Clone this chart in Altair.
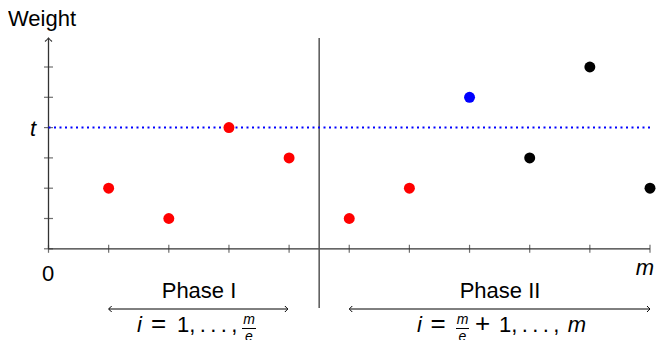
import altair as alt
import pandas as pd

# ---------------- data ----------------
item_index = [1, 2, 3, 4, 5, 6, 7, 8, 9, 10]
item_weight = [2, 1, 4, 3, 1, 2, 5, 3, 6, 2]
item_color = ["red", "red", "red", "red", "red", "red", "blue", "black", "black", "black"]
x_ticks = list(range(0, 11))
y_ticks = list(range(0, 7))
threshold_t = 4
phase_split = 4.5
phase1_range = [1, 4]
phase2_range = [5, 10]

# ---------------- geometry ----------------
W, H = 648, 332
UX, UY = 60.15, 30.3          # pixels per data unit
OX, OY = 48.5, 248.8          # page pixel of the origin


def X(px):
    return (px - OX) / UX


def Y(py):
    return (OY - py) / UY


xmin, xmax = X(8), X(8 + W)
ymin, ymax = Y(8 + H), Y(8)
xs = alt.Scale(domain=[xmin, xmax], nice=False, zero=False)
ys = alt.Scale(domain=[ymin, ymax], nice=False, zero=False)

AX = "#333333"
FONT = "Liberation Sans"
FS = 22


def xe(field="x"):
    return alt.X(f"{field}:Q", scale=xs, axis=None)


def ye(field="y"):
    return alt.Y(f"{field}:Q", scale=ys, axis=None)


layers = []

# axis lines
axes_df = pd.DataFrame({
    "x": [0, 0], "x2": [x_ticks[-1], 0],
    "y": [0, 0], "y2": [0, Y(38)],
})
layers.append(alt.Chart(axes_df).mark_rule(color=AX, strokeWidth=1.3).encode(
    x=xe(), x2="x2:Q", y=ye(), y2="y2:Q"))

# ticks
layers.append(alt.Chart(pd.DataFrame({"x": x_ticks, "y": [0] * len(x_ticks)}))
              .mark_tick(orient="vertical", size=8, thickness=1.2, color=AX)
              .encode(x=xe(), y=ye()))
layers.append(alt.Chart(pd.DataFrame({"x": [0] * len(y_ticks), "y": y_ticks}))
              .mark_tick(orient="horizontal", size=9, thickness=1.2, color=AX)
              .encode(x=xe(), y=ye()))

# y-axis arrow head
up_arrow = "M-1,1 Q-0.25,0.35 0,0 Q0.25,0.35 1,1"
layers.append(alt.Chart(pd.DataFrame({"x": [0], "y": [Y(38)]}))
              .mark_point(shape=up_arrow, filled=False, size=49, color=AX,
                          strokeWidth=1.1, opacity=1)
              .encode(x=xe(), y=ye()))

# divider line between phases
layers.append(alt.Chart(pd.DataFrame({"x": [phase_split], "y": [Y(38)], "y2": [Y(308)]}))
              .mark_rule(color="#555555", strokeWidth=1.5)
              .encode(x=xe(), y=ye(), y2="y2:Q"))

# threshold dotted line
layers.append(alt.Chart(pd.DataFrame({"x": [0], "x2": [x_ticks[-1]], "y": [threshold_t]}))
              .mark_rule(color="#0000ff", strokeWidth=2, strokeDash=[2, 3.5])
              .encode(x=xe(), x2="x2:Q", y=ye()))

# points
pts = pd.DataFrame({"x": item_index, "y": item_weight, "c": item_color})
layers.append(alt.Chart(pts).mark_circle(size=120, opacity=1).encode(
    x=xe(), y=ye(), color=alt.Color("c:N", scale=None)))

# phase arrows
arrow_y = Y(309)
ar_df = pd.DataFrame({"x": [phase1_range[0], phase2_range[0]],
                      "x2": [phase1_range[1] - 0.02, phase2_range[1]],
                      "y": [arrow_y, arrow_y]})
layers.append(alt.Chart(ar_df).mark_rule(color="black", strokeWidth=1)
              .encode(x=xe(), x2="x2:Q", y=ye()))
left_arrow = "M1,-1 Q0.3,-0.25 0,0 Q0.3,0.25 1,1"
right_arrow = "M-1,-1 Q-0.3,-0.25 0,0 Q-0.3,0.25 -1,1"
layers.append(alt.Chart(pd.DataFrame({"x": [phase1_range[0], phase2_range[0]], "y": [arrow_y] * 2}))
              .mark_point(shape=left_arrow, filled=False, size=36, color="black",
                          strokeWidth=1, opacity=1)
              .encode(x=xe(), y=ye()))
layers.append(alt.Chart(pd.DataFrame({"x": [phase1_range[1] - 0.02, phase2_range[1]], "y": [arrow_y] * 2}))
              .mark_point(shape=right_arrow, filled=False, size=36, color="black",
                          strokeWidth=1, opacity=1)
              .encode(x=xe(), y=ye()))

# fraction bars
fb = pd.DataFrame({"x": [X(242), X(456)], "x2": [X(256), X(469)], "y": [Y(328.5), Y(328.5)]})
layers.append(alt.Chart(fb).mark_rule(color="black", strokeWidth=1)
              .encode(x=xe(), x2="x2:Q", y=ye()))


def text_layer(rows, **props):
    df = pd.DataFrame(rows, columns=["t", "px", "py"])
    df["x"] = df["px"].map(X)
    df["y"] = df["py"].map(Y)
    base = dict(font=FONT, fontSize=FS, baseline="alphabetic", align="center", color="black")
    base.update(props)
    return alt.Chart(df).mark_text(**base).encode(x=xe(), y=ye(), text="t:N")


dots = "1,\u2009.\u2009.\u2009.\u2009,"
layers.append(text_layer([["Weight", 8, 26]], align="left"))
layers.append(text_layer([["0", 48, 281], ["Phase I", 199, 298], ["Phase II", 500, 298]]))
layers.append(text_layer([["=", 158.5, 332], ["=", 438, 332], ["+", 482.5, 332]], fontSize=26))
layers.append(text_layer([[dots, 177, 332], [dots, 499, 332]], align="left"))
layers.append(text_layer([["t", 33, 136], ["m", 645, 275], ["i", 139.5, 332],
                          ["i", 419.5, 332], ["m", 577, 332]], fontStyle="italic"))
layers.append(text_layer([["m", 249, 324], ["m", 462.5, 324], ["e", 249, 341], ["e", 462.5, 341]],
                         fontStyle="italic", fontSize=14))

chart = alt.layer(*layers).properties(
    width=W, height=H,
    autosize=alt.AutoSizeParams(type="none"),
    padding=0,
).configure_view(strokeWidth=0)

chart.save("out.html", embed_options={"renderer": "svg", "actions": False})
